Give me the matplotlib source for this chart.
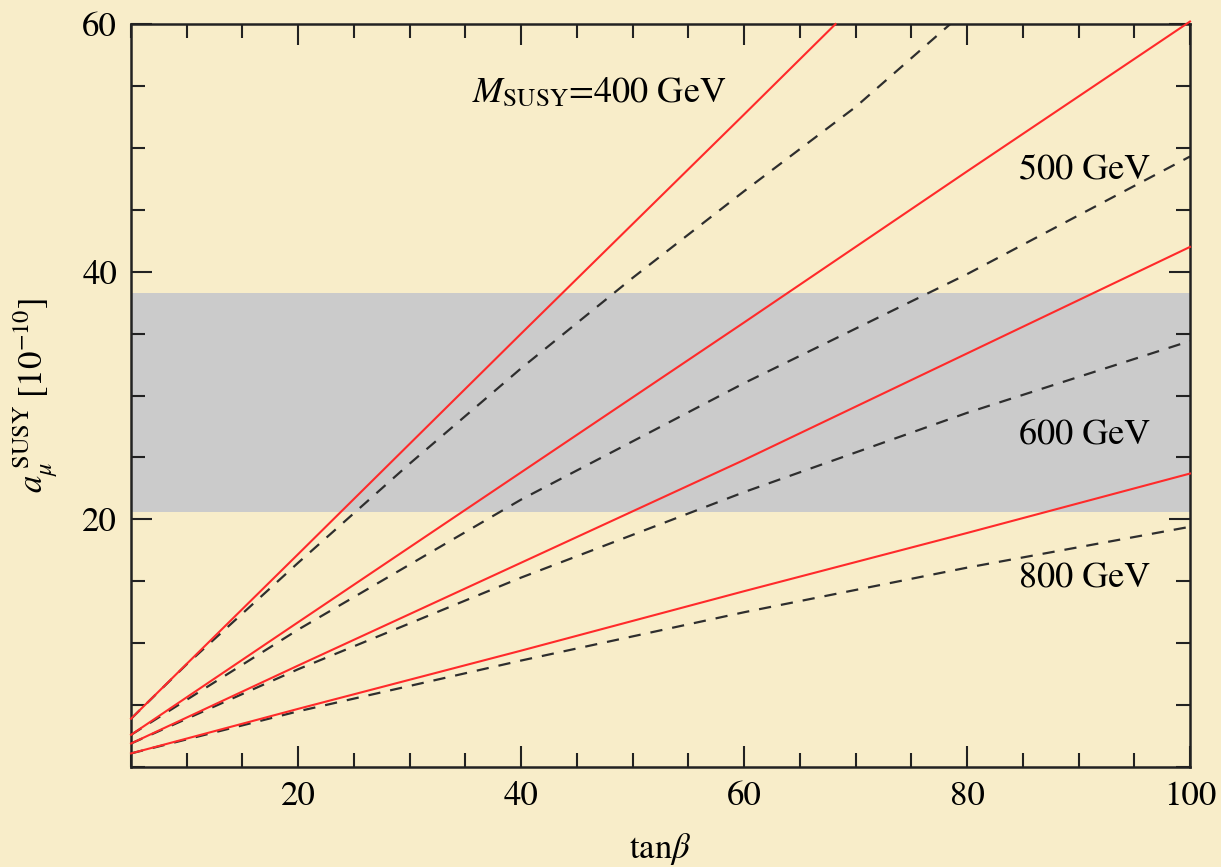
import matplotlib
matplotlib.use("Agg")
import matplotlib.pyplot as plt
from matplotlib.ticker import MultipleLocator

plt.rcParams['font.family'] = ['STIXGeneral', 'DejaVu Serif']
plt.rcParams['mathtext.fontset'] = 'stix'

# values (tan beta, a_mu in 1e-10)
red400_x = [5, 20, 40, 60, 68.2]
red400_y = [3.9, 17.2, 35.0, 52.7, 60.0]
red500_x = [5, 20, 40, 60, 80, 100]
red500_y = [2.6, 11.7, 23.8, 35.9, 48.1, 60.2]
red600_x = [5, 20, 40, 60, 80, 100]
red600_y = [1.9, 8.2, 16.5, 24.8, 33.4, 42.0]
red800_x = [5, 20, 40, 60, 80, 100]
red800_y = [1.1, 4.7, 9.4, 14.2, 18.9, 23.7]

dash400_x = [5, 10, 20, 30, 40, 50, 60, 70, 78.5]
dash400_y = [3.9, 8.3, 16.5, 24.5, 32.2, 39.5, 46.5, 53.3, 60.0]
dash500_x = [5, 20, 40, 60, 80, 100]
dash500_y = [2.6, 11.1, 21.6, 31.0, 39.8, 49.3]
dash600_x = [5, 20, 40, 60, 80, 100]
dash600_y = [1.9, 7.9, 15.3, 22.2, 28.6, 34.4]
dash800_x = [5, 20, 40, 60, 80, 100]
dash800_y = [1.1, 4.5, 8.6, 12.5, 16.1, 19.4]

band_lo, band_hi = 20.6, 38.3

bg = '#F8EDC9'
fig = plt.figure(figsize=(12.21, 8.67), dpi=100, facecolor=bg)
ax = fig.add_axes([0.1073, 0.1153, 0.8673, 0.857])
ax.set_facecolor(bg)

ax.axhspan(band_lo, band_hi, color='#CBCBCB', lw=0, zorder=1)

for x, y in [(dash400_x, dash400_y), (dash500_x, dash500_y),
             (dash600_x, dash600_y), (dash800_x, dash800_y)]:
    ax.plot(x, y, color='#2E2E2E', lw=1.6, dashes=(5.5, 4.5), zorder=2)
for x, y in [(red400_x, red400_y), (red500_x, red500_y),
             (red600_x, red600_y), (red800_x, red800_y)]:
    ax.plot(x, y, color='#FF2A2A', lw=1.5, zorder=3, clip_on=False)

ax.set_xlim(5, 100)
ax.set_ylim(0, 60)

# labels on the lines
ax.text(35.6, 54.4, r'$M_{\rm SUSY}$=400 GeV', fontsize=26, va='center', ha='left')
ax.text(84.7, 48.1, '500 GeV', fontsize=26, va='center', ha='left')
ax.text(84.7, 26.8, '600 GeV', fontsize=26, va='center', ha='left')
ax.text(84.7, 15.2, '800 GeV', fontsize=26, va='center', ha='left')

ax.xaxis.set_major_locator(MultipleLocator(20))
ax.xaxis.set_minor_locator(MultipleLocator(5))
ax.yaxis.set_major_locator(MultipleLocator(20))
ax.yaxis.set_minor_locator(MultipleLocator(5))
ax.set_yticks([20, 40, 60])
ax.tick_params(which='both', direction='in', top=True, right=True,
               width=1.5, labelsize=25, color='#222222')
ax.tick_params(which='major', length=15, pad=10)
ax.tick_params(which='minor', length=10)
for s in ax.spines.values():
    s.set_linewidth(1.8)
    s.set_color('#222222')

ax.set_xlabel(r'tan$\beta$', fontsize=25, labelpad=13)
ax.set_ylabel(r'$a_\mu^{\;\rm SUSY}\;[10^{-10}]$', fontsize=25, labelpad=16)

fig.savefig('out.png', dpi=100, facecolor=bg)
